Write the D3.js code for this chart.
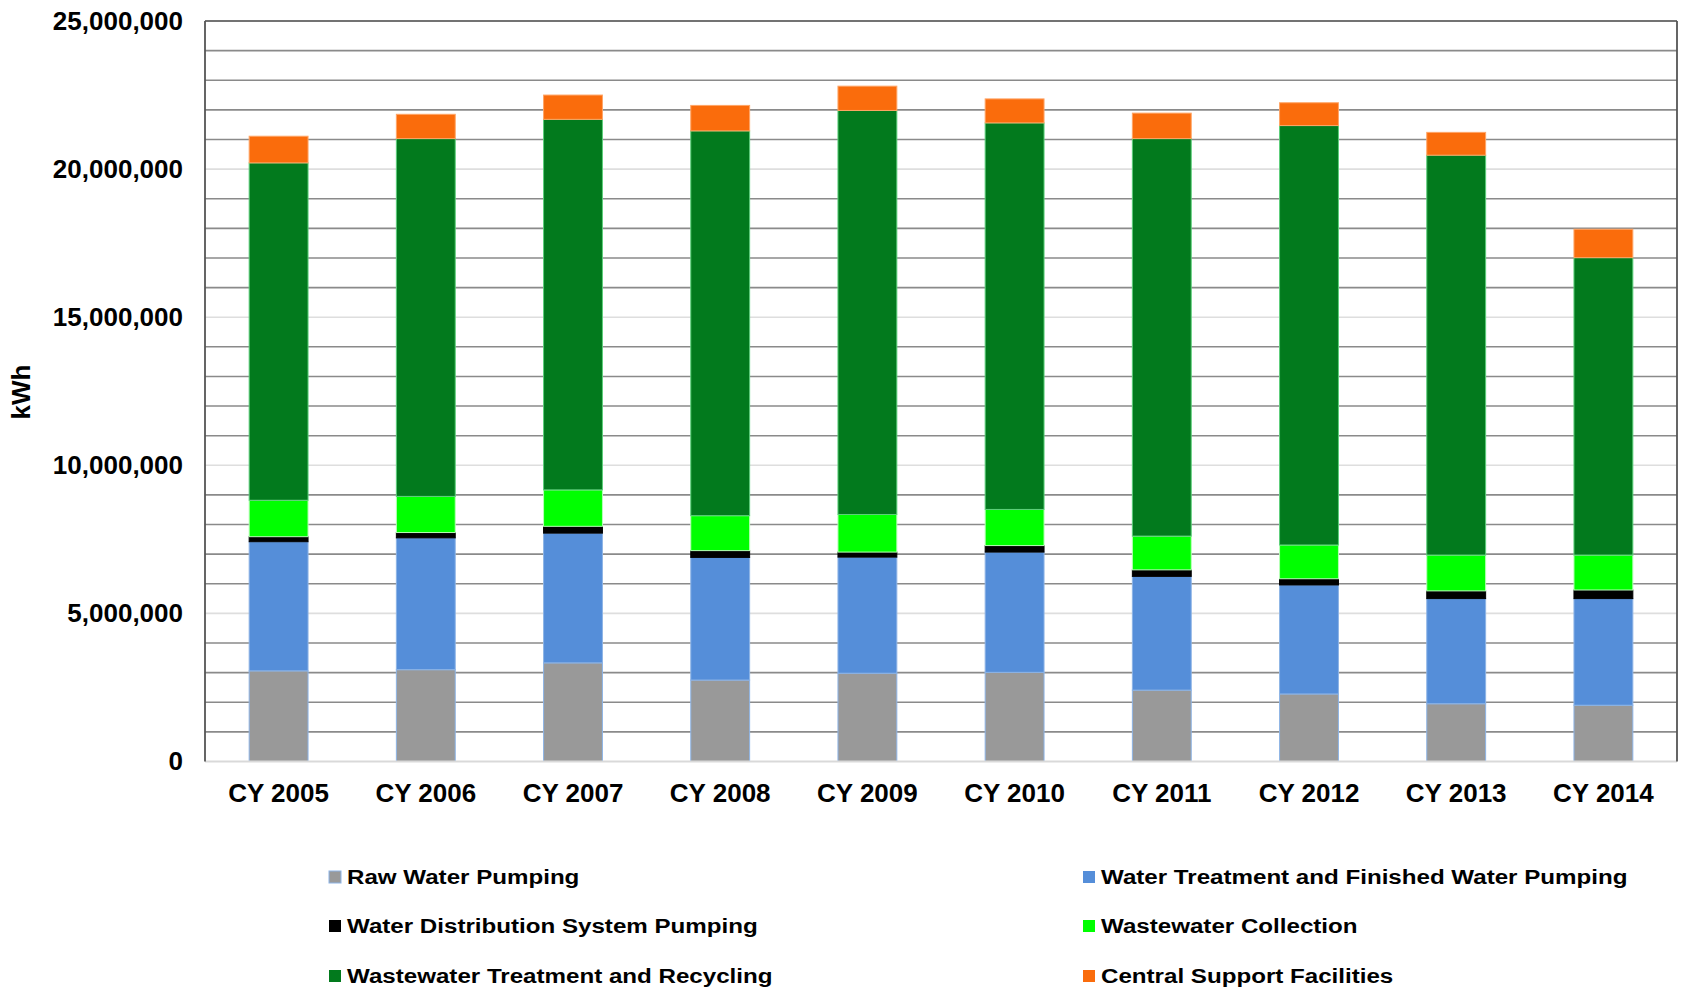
<!DOCTYPE html>
<html>
<head>
<meta charset="utf-8">
<script src="https://cdn.jsdelivr.net/npm/d3@7"></script>
<style>
  html, body { margin: 0; padding: 0; background: #ffffff; }
  svg { display: block; font-family: "Liberation Sans", Arial, sans-serif; }
</style>
</head>
<body>
<svg id="chart" width="1683" height="990"></svg>
<script>
// Calendar years on the x axis
const years = ["CY 2005", "CY 2006", "CY 2007", "CY 2008", "CY 2009",
               "CY 2010", "CY 2011", "CY 2012", "CY 2013", "CY 2014"];

// Energy use by facility group (kWh)
const rawWaterPumping       = [3060000, 3100000, 3330000, 2750000, 2980000, 3010000, 2410000, 2280000, 1950000, 1900000];
const waterTreatment        = [4360000, 4450000, 4380000, 4140000, 3920000, 4060000, 3840000, 3680000, 3550000, 3600000];
const distributionPumping   = [170000, 180000, 230000, 230000, 170000, 220000, 220000, 210000, 260000, 290000];
const wastewaterCollection  = [1230000, 1220000, 1230000, 1180000, 1270000, 1220000, 1140000, 1140000, 1210000, 1180000];
const wastewaterTreatment   = [11390000, 12080000, 12510000, 12990000, 13640000, 13050000, 13420000, 14160000, 13500000, 10040000];
const centralSupport        = [900000, 820000, 820000, 860000, 820000, 810000, 860000, 770000, 770000, 960000];

const seriesNames = ["Raw Water Pumping",
                     "Water Treatment and Finished Water Pumping",
                     "Water Distribution System Pumping",
                     "Wastewater Collection",
                     "Wastewater Treatment and Recycling",
                     "Central Support Facilities"];
const seriesValues = [rawWaterPumping, waterTreatment, distributionPumping,
                      wastewaterCollection, wastewaterTreatment, centralSupport];
const seriesFill   = ["#999999", "#558ed9", "#000000", "#00ff00", "#027a1d", "#fa6c0c"];
const seriesStroke = ["#8db4e6", "#8db4e6", "#000000", "#b8ffb8", "#5ccf7a", "#ffa566"];

const yTicks = [0, 5000000, 10000000, 15000000, 20000000, 25000000];

// Plot geometry
const plotLeft = 205, plotRight = 1677, plotTop = 21, plotBottom = 761.5;

const svg = d3.select("#chart");

const x = d3.scaleBand().domain(years).range([plotLeft, plotRight]).paddingInner(0.6).paddingOuter(0.3);
const y = d3.scaleLinear().domain([0, 25000000]).range([plotBottom, plotTop]);

// Minor gridlines every 1,000,000 (dark) and major every 5,000,000 (light)
const minor = d3.range(1000000, 25000000, 1000000).filter(v => v % 5000000 !== 0);
svg.append("g").selectAll("line").data(minor).join("line")
  .attr("x1", plotLeft).attr("x2", plotRight)
  .attr("y1", d => y(d)).attr("y2", d => y(d))
  .attr("stroke", "#8a8a8a").attr("stroke-width", 1.6);
svg.append("g").selectAll("line").data([5000000, 10000000, 15000000, 20000000]).join("line")
  .attr("x1", plotLeft).attr("x2", plotRight)
  .attr("y1", d => y(d)).attr("y2", d => y(d))
  .attr("stroke", "#dedede").attr("stroke-width", 1.6);

// Stack the series
const rows = years.map((yr, i) => {
  const r = { year: yr };
  seriesNames.forEach((s, k) => r[s] = seriesValues[k][i]);
  return r;
});
const stacked = d3.stack().keys(seriesNames)(rows);

const barW = x.bandwidth();
svg.append("g").selectAll("g").data(stacked).join("g")
  .attr("fill", (d, k) => seriesFill[k])
  .attr("stroke", (d, k) => seriesStroke[k])
  .attr("stroke-width", 1)
  .selectAll("rect").data(d => d).join("rect")
  .attr("x", d => x(d.data.year))
  .attr("width", barW)
  .attr("y", d => y(d[1]))
  .attr("height", d => y(d[0]) - y(d[1]));

// Plot frame: dark on top, left and right; light baseline
svg.append("line").attr("x1", plotLeft).attr("x2", plotRight).attr("y1", y(0)).attr("y2", y(0))
  .attr("stroke", "#d9d9d9").attr("stroke-width", 2);
svg.append("line").attr("x1", plotLeft).attr("x2", plotRight).attr("y1", plotTop).attr("y2", plotTop)
  .attr("stroke", "#444444").attr("stroke-width", 1.6);
svg.append("line").attr("x1", plotLeft).attr("x2", plotLeft).attr("y1", plotTop).attr("y2", plotBottom)
  .attr("stroke", "#555555").attr("stroke-width", 1.8);
svg.append("line").attr("x1", plotRight).attr("x2", plotRight).attr("y1", plotTop).attr("y2", plotBottom)
  .attr("stroke", "#555555").attr("stroke-width", 1.8);

// Y axis labels
const yAxis = d3.axisLeft(y).tickValues(yTicks).tickSize(0).tickPadding(22)
  .tickFormat(d3.format(","));
const gy = svg.append("g").attr("transform", `translate(${plotLeft},0)`).call(yAxis);
gy.select(".domain").remove();
gy.selectAll("text")
  .attr("font-family", "'Liberation Sans', Arial, sans-serif")
  .attr("font-size", 26).attr("font-weight", "bold").attr("fill", "#000");

// X axis labels
const xAxis = d3.axisBottom(x).tickSize(0).tickPadding(22);
const gx = svg.append("g").attr("transform", `translate(0,${plotBottom})`).call(xAxis);
gx.select(".domain").remove();
gx.selectAll("text")
  .attr("font-family", "'Liberation Sans', Arial, sans-serif")
  .attr("font-size", 26).attr("font-weight", "bold").attr("fill", "#000");

// Y axis title
svg.append("text")
  .attr("transform", "translate(30,392) rotate(-90)")
  .attr("text-anchor", "middle")
  .attr("font-size", 26).attr("font-weight", "bold").attr("fill", "#000")
  .text("kWh");

// Legend: two columns, three rows
const legendCols = [329, 1083];
const legendRows = [877, 926, 976];
const leg = svg.append("g").selectAll("g").data(seriesNames).join("g")
  .attr("transform", (d, k) => `translate(${legendCols[k % 2]},${legendRows[Math.floor(k / 2)]})`);
leg.append("rect")
  .attr("x", 0).attr("y", -6).attr("width", 12).attr("height", 12)
  .attr("fill", (d, k) => seriesFill[k])
  .attr("stroke", (d, k) => k === 0 ? "#8db4e6" : "none").attr("stroke-width", 1);
leg.append("text")
  .attr("transform", "translate(18,0) scale(1.15,1)")
  .attr("dy", "0.35em")
  .attr("font-size", 21).attr("font-weight", "bold").attr("fill", "#000")
  .text(d => d);
</script>
</body>
</html>
